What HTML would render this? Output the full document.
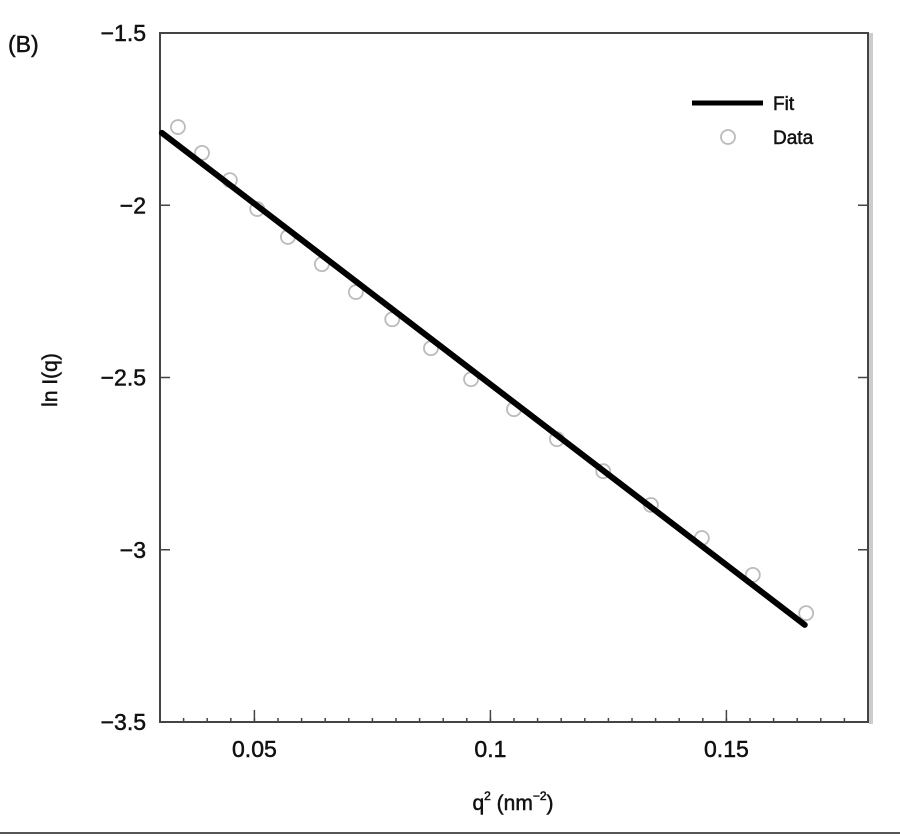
<!DOCTYPE html>
<html><head><meta charset="utf-8"><style>
body{margin:0;background:#fff;}
svg text{font-family:"Liberation Sans",Arial,sans-serif;fill:#111;stroke:#111;stroke-width:0.5;}
</style></head><body>
<svg width="900" height="835" viewBox="0 0 900 835">
<g id="plot"></g>
</svg>
<script>
const xTicks=[0.05,0.1,0.15];
const xTickLabels=["0.05","0.1","0.15"];
const yTicks=[-1.5,-2,-2.5,-3,-3.5];
const yTickLabels=["\u22121.5","\u22122","\u22122.5","\u22123","\u22123.5"];
const dataX=[0.0338,0.0389,0.0448,0.0506,0.0571,0.0643,0.0715,0.0792,0.0874,0.0959,0.105,0.1141,0.1239,0.134,0.1448,0.1556,0.1669];
const dataY=[-1.773,-1.848,-1.927,-2.011,-2.092,-2.171,-2.252,-2.331,-2.415,-2.505,-2.592,-2.679,-2.772,-2.870,-2.966,-3.073,-3.184];
const fitX=[0.0304,0.1666];
const fitY=[-1.790,-3.218];

const L=160,R=868,T=33,B=722,x0=0.03,x1=0.18,y0=-3.5,y1=-1.5;
const sx=v=>L+(v-x0)/(x1-x0)*(R-L);
const sy=v=>B-(v-y0)/(y1-y0)*(B-T);
const NS="http://www.w3.org/2000/svg";
const g=document.getElementById('plot');
function mk(t,a,txt){const e=document.createElementNS(NS,t);for(const k in a)e.setAttribute(k,a[k]);if(txt!==undefined)e.textContent=txt;g.appendChild(e);return e;}

let e=mk('text',{x:8,y:52,'font-size':23},'(B)');


e=mk('rect',{x:R+1,y:T,width:4,height:B-T+2,fill:'#ccc'});


e=mk('rect',{x:L,y:T,width:R-L,height:B-T,fill:'none',stroke:'#444','stroke-width':2});



for(let v=0.035;v<0.1801;v+=0.005){
 const px=sx(v);
 e=mk('line',{x1:px,x2:px,y1:B,y2:B-4,stroke:'#444','stroke-width':1.5});
 
 
}
xTicks.forEach((v,i)=>{
 e=mk('line',{x1:sx(v),x2:sx(v),y1:B,y2:B-12,stroke:'#444','stroke-width':1.5});
 
 
 e=mk('text',{x:sx(v),y:B+35,'font-size':23,'text-anchor':'middle'},xTickLabels[i]);
 
 
});
yTicks.forEach((v,i)=>{
 e=mk('line',{x1:L,x2:L+10,y1:sy(v),y2:sy(v),stroke:'#444','stroke-width':1.5});
 
 
 e=mk('line',{x1:R,x2:R-10,y1:sy(v),y2:sy(v),stroke:'#444','stroke-width':1.5});
 
 
 e=mk('text',{x:L-14,y:sy(v)+8,'font-size':23,'text-anchor':'end'},yTickLabels[i]);
 
 
});

e=mk('text',{x:0,y:0,'font-size':21,'text-anchor':'middle',transform:'translate(57,380) rotate(-90)'},'ln I(q)');


e=mk('text',{x:513,y:810,'font-size':21,'text-anchor':'middle'});


e.innerHTML='q<tspan dy="-10" font-size="12">2</tspan><tspan dy="10"> (nm</tspan><tspan dy="-10" font-size="12">\u22122</tspan><tspan dy="10">)</tspan>';

dataX.forEach((v,i)=>{
 e=mk('circle',{cx:sx(v),cy:sy(dataY[i]),r:7,fill:'none',stroke:'#bbb','stroke-width':1.8});
 
 
});
e=mk('line',{x1:sx(fitX[0]),y1:sy(fitY[0]),x2:sx(fitX[1]),y2:sy(fitY[1]),stroke:'#000','stroke-width':6,'stroke-linecap':'round'});



e=mk('line',{x1:692,x2:763,y1:103,y2:103,stroke:'#000','stroke-width':5});


e=mk('text',{x:773,y:110,'font-size':19},'Fit');


e=mk('circle',{cx:728,cy:137,r:7,fill:'none',stroke:'#bbb','stroke-width':1.8});


e=mk('text',{x:773,y:144,'font-size':19},'Data');


e=mk('line',{x1:0,x2:900,y1:833,y2:833,stroke:'#555','stroke-width':2});


</script>
</body></html>
